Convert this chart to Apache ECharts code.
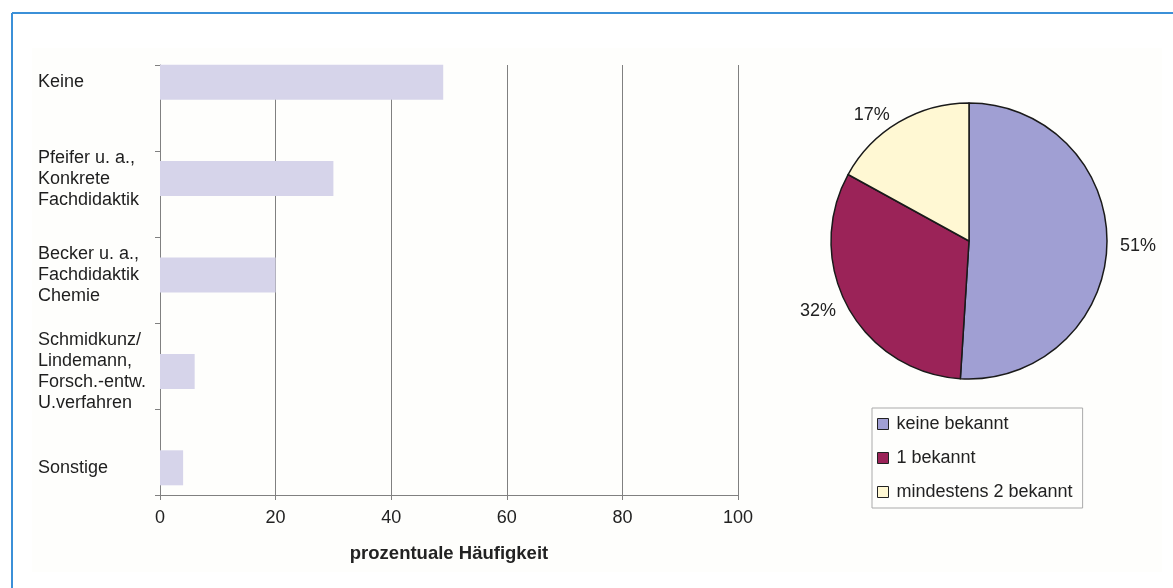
<!DOCTYPE html>
<html>
<head>
<meta charset="utf-8">
<script src="https://cdn.jsdelivr.net/npm/echarts@6/dist/echarts.min.js"></script>
<style>
html,body{margin:0;padding:0;background:#fff;}
#c{width:1173px;height:588px;}
</style>
</head>
<body>
<div id="c"></div>
<script>
// ---- data ----
const categories = ['Keine', 'Pfeifer u. a.,\nKonkrete\nFachdidaktik', 'Becker u. a.,\nFachdidaktik\nChemie', 'Schmidkunz/\nLindemann,\nForsch.-entw.\nU.verfahren', 'Sonstige'];
const barValues = [49, 30, 20, 6, 4];
const axisName = 'prozentuale Häufigkeit';
const pieNames = ['keine bekannt', '1 bekannt', 'mindestens 2 bekannt'];
const pieValues = [51, 32, 17];
const pieColors = ['#a09fd3', '#9b2358', '#fff8d3'];

const FONT = '"Liberation Sans", Arial, sans-serif';
const chart = echarts.init(document.getElementById('c'));
chart.setOption({
  animation: false,
  textStyle: { fontFamily: FONT },
  graphic: [
    { type: 'rect', z: -100, shape: { x: 32, y: 48, width: 1130, height: 524 }, style: { fill: '#fefefc' } },
    { type: 'line', z: 100, shape: { x1: 12, y1: 13, x2: 1173, y2: 13 }, style: { stroke: '#3b90d8', lineWidth: 2 } },
    { type: 'line', z: 100, shape: { x1: 12, y1: 13, x2: 12, y2: 588 }, style: { stroke: '#3b90d8', lineWidth: 2 } }
  ],
  grid: [
    { left: 160, right: 435, top: 65, bottom: 93 },
    { left: 160, right: 435, top: 34, bottom: 72 }
  ],
  xAxis: [
    {
      gridIndex: 0, type: 'value', min: 0, max: 100, interval: 20,
      axisLine: { show: true, lineStyle: { color: '#808080', width: 1 } },
      axisTick: { show: true, length: 5, lineStyle: { color: '#808080' } },
      axisLabel: { color: '#222', fontSize: 18, margin: 14, fontFamily: FONT },
      splitLine: { show: true, lineStyle: { color: '#808080', width: 1 } },
      name: axisName, nameLocation: 'middle', nameGap: 49,
      nameTextStyle: { color: '#222', fontSize: 18.5, fontWeight: 'bold', fontFamily: FONT }
    },
    { gridIndex: 1, type: 'value', min: 0, max: 100, show: false }
  ],
  yAxis: [
    {
      gridIndex: 0, type: 'category', data: categories, inverse: true,
      axisLine: { show: true, lineStyle: { color: '#808080', width: 1 } },
      axisTick: { show: true, length: 5, lineStyle: { color: '#808080' } },
      axisLabel: { show: false },
      splitLine: { show: false }
    },
    {
      gridIndex: 1, type: 'category', data: categories, inverse: true,
      axisLine: { show: false }, axisTick: { show: false },
      axisLabel: { color: '#1e1e1e', fontSize: 18, lineHeight: 21, align: 'left', margin: 122, fontFamily: FONT },
      splitLine: { show: false }
    }
  ],
  legend: {
    orient: 'vertical', left: 872, top: 408,
    data: pieNames,
    borderColor: '#aaa', borderWidth: 1, borderRadius: 0,
    padding: [7, 10, 7, 5],
    itemWidth: 11, itemHeight: 11, itemGap: 16,
    icon: 'rect',
    itemStyle: { borderColor: '#222', borderWidth: 1 },
    textStyle: { color: '#222', fontSize: 18, fontFamily: FONT, padding: [0, 0, 0, 3] }
  },
  series: [
    {
      type: 'bar', xAxisIndex: 1, yAxisIndex: 1,
      data: barValues, barWidth: 35,
      itemStyle: { color: '#d6d4ea' },
      silent: true
    },
    {
      type: 'pie', center: [969, 241], radius: 138,
      startAngle: 90, clockwise: true,
      data: pieNames.map((n, i) => ({ name: n, value: pieValues[i], itemStyle: { color: pieColors[i] } })),
      itemStyle: { borderColor: '#1a1a1a', borderWidth: 1.5 },
      label: { show: true, position: 'outside', formatter: '{d}%', color: '#222', fontSize: 18, fontFamily: FONT },
      labelLine: { show: false, length: 8, length2: 0 },
      emphasis: { disabled: true },
      silent: true
    }
  ]
});
</script>
</body>
</html>
